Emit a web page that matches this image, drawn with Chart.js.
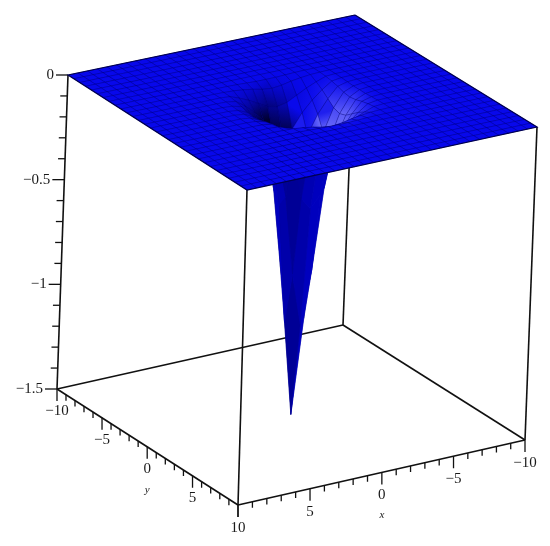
<!DOCTYPE html>
<html>
<head>
<meta charset="utf-8">
<style>
  html, body { margin: 0; padding: 0; background: #fff; }
  canvas { display: block; }
</style>
<script src="https://cdn.jsdelivr.net/npm/chart.js@4/dist/chart.umd.min.js"></script>
</head>
<body>
<canvas id="myChart" width="550" height="546"></canvas>
<script>
// surface grid lines
var gridX = [-10,-9.33,-8.67,-8,-7.33,-6.67,-6,-5.33,-4.67,-4,-3.33,-2.67,-2,-1.33,-0.67,0,0.67,1.33,2,2.67,3.33,4,4.67,5.33,6,6.67,7.33,8,8.67,9.33,10];
var gridY = [-10,-9.33,-8.67,-8,-7.33,-6.67,-6,-5.33,-4.67,-4,-3.33,-2.67,-2,-1.33,-0.67,0,0.67,1.33,2,2.67,3.33,4,4.67,5.33,6,6.67,7.33,8,8.67,9.33,10];

var wellStart = 9;
var wellZ = [
  [0,0,0,-.001,-.003,-.005,-.005,-.005,-.003,-.001,0,0,0],
  [0,-.001,-.003,-.008,-.015,-.025,-.03,-.025,-.015,-.008,-.003,-.001,0],
  [0,-.003,-.02,-.04,-.065,-.09,-.10,-.09,-.065,-.04,-.02,-.003,0],
  [-.001,-.008,-.04,-.08,-.13,-.20,-.22,-.20,-.13,-.08,-.04,-.008,-.001],
  [-.003,-.015,-.065,-.13,-.22,-.42,-.48,-.42,-.22,-.13,-.065,-.015,-.003],
  [-.005,-.025,-.09,-.20,-.42,-.80,-1.05,-.80,-.42,-.20,-.09,-.025,-.005],
  [-.005,-.03,-.10,-.22,-.48,-1.05,-1.5,-1.05,-.48,-.22,-.10,-.03,-.005],
  [-.005,-.025,-.09,-.20,-.42,-.80,-1.05,-.80,-.42,-.20,-.09,-.025,-.005],
  [-.003,-.015,-.065,-.13,-.22,-.42,-.48,-.42,-.22,-.13,-.065,-.015,-.003],
  [-.001,-.008,-.04,-.08,-.13,-.20,-.22,-.20,-.13,-.08,-.04,-.008,-.001],
  [0,-.003,-.02,-.04,-.065,-.09,-.10,-.09,-.065,-.04,-.02,-.003,0],
  [0,-.001,-.003,-.008,-.015,-.025,-.03,-.025,-.015,-.008,-.003,-.001,0],
  [0,0,0,-.001,-.003,-.005,-.005,-.005,-.003,-.001,0,0,0]
];

// axes
var xTicks = [-10,-9,-8,-7,-6,-5,-4,-3,-2,-1,0,1,2,3,4,5,6,7,8,9,10];
var yTicks = [-10,-9,-8,-7,-6,-5,-4,-3,-2,-1,0,1,2,3,4,5,6,7,8,9,10];
var zTicks = [0,-0.1,-0.2,-0.3,-0.4,-0.5,-0.6,-0.7,-0.8,-0.9,-1,-1.1,-1.2,-1.3,-1.4,-1.5];
var xyLabelValues = [-10,-5,0,5,10];
var xyLabels = ['\u221210','\u22125','0','5','10'];
var zLabelValues = [0,-0.5,-1,-1.5];
var zLabels = ['0','\u22120.5','\u22121','\u22121.5'];

// box corners on the page: back, left, front, right (x,y = -10/-10, 10/-10, 10/10, -10/10)
var topBox = [[355,15],[68,75],[247,190],[537,127]];
var bottomBox = [[343,325],[57,389],[238,505],[525,440]];

function homography(q) {
  var dx1 = q[1][0]-q[2][0], dx2 = q[3][0]-q[2][0], sx = q[0][0]-q[1][0]+q[2][0]-q[3][0];
  var dy1 = q[1][1]-q[2][1], dy2 = q[3][1]-q[2][1], sy = q[0][1]-q[1][1]+q[2][1]-q[3][1];
  var den = dx1*dy2-dx2*dy1;
  var g = (sx*dy2-dx2*sy)/den, h = (dx1*sy-sx*dy1)/den;
  return [q[1][0]-q[0][0]+g*q[1][0], q[3][0]-q[0][0]+h*q[3][0], q[0][0],
          q[1][1]-q[0][1]+g*q[1][1], q[3][1]-q[0][1]+h*q[3][1], q[0][1], g, h];
}
var topH = homography(topBox);
var bottomH = homography(bottomBox);

function applyH(m, x, y) {
  var u = (x+10)/20, v = (y+10)/20;
  var w = m[6]*u+m[7]*v+1;
  return [(m[0]*u+m[1]*v+m[2])/w, (m[3]*u+m[4]*v+m[5])/w];
}

function project(x, y, z) {
  var a = applyH(topH, x, y), b = applyH(bottomH, x, y);
  var t = -z/1.5;
  return {x: a[0]+(b[0]-a[0])*t, y: a[1]+(b[1]-a[1])*t};
}

function zAt(i, j) {
  var a = i-wellStart, b = j-wellStart;
  if (a >= 0 && b >= 0 && a < wellZ.length && b < wellZ.length) return wellZ[a][b];
  return 0;
}

function area(p) {
  var s = 0;
  for (var k = 0; k < 4; k++) {
    var n = p[(k+1)%4];
    s += p[k].x*n.y-n.x*p[k].y;
  }
  return s;
}

function mix(a, b, t) { return Math.round(a+(b-a)*t); }

// shading at a grid node, from the slope of the z table
function nodeShade(i, j) {
  var spacing = gridX[1]-gridX[0];
  var dx = (zAt(i+1,j)-zAt(i-1,j))/(2*spacing);
  var dy = (zAt(i,j+1)-zAt(i,j-1))/(2*spacing);
  var s = -dx*0.8+dy*0.6;
  var m = Math.sqrt(dx*dx+dy*dy);
  if (s > 0) {
    var t = Math.pow(Math.min(1, s/0.16), 1.2)/(1+(m/0.45)*(m/0.45));
    return [mix(8,150,t), mix(8,150,t), mix(235,255,t)];
  }
  var d = Math.pow(Math.min(1, -s/0.14), 1.5)/(1+(m/1.1)*(m/1.1));
  return [mix(8,0,d), mix(8,0,d), mix(235,45,d)];
}

function rgb(c) { return 'rgb('+c[0]+','+c[1]+','+c[2]+')'; }

function lineSet(points, color, width) {
  return {data: points, showLine: true, borderColor: color, borderWidth: width, pointRadius: 0, fill: false};
}

var ctx = document.getElementById('myChart').getContext('2d');

function cellFill(quad, nodes) {
  var lo = 0, hi = 0;
  var cols = nodes.map(function(n) { return nodeShade(n[0], n[1]); });
  for (var k = 1; k < 4; k++) {
    if (cols[k][2]+cols[k][0] < cols[lo][2]+cols[lo][0]) lo = k;
    if (cols[k][2]+cols[k][0] > cols[hi][2]+cols[hi][0]) hi = k;
  }
  if (lo == hi) return rgb(cols[0]);
  var g = ctx.createLinearGradient(quad[lo].x, quad[lo].y, quad[hi].x, quad[hi].y);
  g.addColorStop(0, rgb(cols[lo]));
  g.addColorStop(1, rgb(cols[hi]));
  return g;
}

// underside of the spike: darker in the middle, lighter toward the silhouette
function underFill(i, j) {
  var dx = zAt(i+1,j)+zAt(i+1,j+1)-zAt(i,j)-zAt(i,j+1);
  var dy = zAt(i,j+1)+zAt(i+1,j+1)-zAt(i,j)-zAt(i+1,j);
  var r = Math.abs(dy-dx)/(Math.abs(dx)+Math.abs(dy)+0.001);
  return 'rgb(0,0,'+mix(150,190,r)+')';
}

// painted back to front, the list is reversed at the end for Chart.js
var painted = [];
var ink = '#111';

// box edges behind the surface
for (var c = 0; c < 4; c++) {
  var p0 = {x: bottomBox[c][0], y: bottomBox[c][1]};
  var p1 = {x: bottomBox[(c+1)%4][0], y: bottomBox[(c+1)%4][1]};
  painted.push(lineSet([p0, p1], ink, 1.6));
  painted.push(lineSet([{x: topBox[c][0], y: topBox[c][1]}, p0], ink, 1.6));
}

// ticks
xTicks.forEach(function(v) {
  var p = project(v, 10, -1.5);
  painted.push(lineSet([p, {x: p.x, y: p.y+(v%5 == 0 ? 12 : 6)}], ink, 1.3));
});
yTicks.forEach(function(v) {
  var p = project(10, v, -1.5);
  painted.push(lineSet([p, {x: p.x, y: p.y+(v%5 == 0 ? 12 : 6)}], ink, 1.3));
});
zTicks.forEach(function(v, k) {
  var p = project(10, -10, v);
  painted.push(lineSet([p, {x: p.x-(k%5 == 0 ? 12 : 7), y: p.y}], ink, 1.3));
});

// flat sheet under the cells so the white page does not show in the seams
var sheet = topBox.concat([topBox[0]]).map(function(q) { return {x: q[0], y: q[1]}; });
painted.push({data: sheet, showLine: true, fill: 'shape', backgroundColor: 'rgb(8,8,235)', borderWidth: 0, pointRadius: 0});

// surface
for (var i = 0; i < gridX.length-1; i++) {
  for (var j = 0; j < gridY.length-1; j++) {
    var nodes = [[i,j],[i+1,j],[i+1,j+1],[i,j+1]];
    var quad = nodes.map(function(n) { return project(gridX[n[0]], gridY[n[1]], zAt(n[0],n[1])); });
    var flat = nodes.map(function(n) { return project(gridX[n[0]], gridY[n[1]], 0); });
    var backFacing = area(quad)*area(flat) < 0;
    var under = underFill(i, j);
    painted.push({
      data: quad.concat([quad[0]]),
      showLine: true,
      fill: 'shape',
      backgroundColor: backFacing ? under : cellFill(quad, nodes),
      borderColor: backFacing ? under : 'rgba(0,0,80,0.3)',
      borderWidth: backFacing ? 0.6 : 0.8,
      pointRadius: 0
    });
  }
}

// outline of the top sheet
painted.push(lineSet(sheet, '#000050', 1.2));

var labelPlugin = {
  id: 'axisText',
  afterDraw: function(chart) {
    var c2 = chart.ctx, sx = chart.scales.x, sy = chart.scales.y;
    c2.save();
    c2.fillStyle = '#1a1a1a';
    c2.font = '15px "Liberation Serif"';
    c2.textBaseline = 'middle';
    c2.textAlign = 'center';
    xyLabelValues.forEach(function(v, k) {
      var a = project(v, 10, -1.5), b = project(10, v, -1.5);
      c2.fillText(xyLabels[k], sx.getPixelForValue(a.x), sy.getPixelForValue(a.y)+23);
      if (v != 10) c2.fillText(xyLabels[k], sx.getPixelForValue(b.x), sy.getPixelForValue(b.y)+22);
    });
    c2.textAlign = 'right';
    zLabelValues.forEach(function(v, k) {
      var p = project(10, -10, v);
      c2.fillText(zLabels[k], sx.getPixelForValue(p.x)-14, sy.getPixelForValue(p.y));
    });
    c2.textAlign = 'center';
    c2.font = 'italic 11px "Liberation Serif"';
    var lx = project(0, 10, -1.5), ly = project(10, 0, -1.5);
    c2.fillText('x', sx.getPixelForValue(lx.x), sy.getPixelForValue(lx.y)+43);
    c2.fillText('y', sx.getPixelForValue(ly.x), sy.getPixelForValue(ly.y)+43);
    c2.restore();
  }
};

var chart = new Chart(ctx, {
  type: 'scatter',
  data: {datasets: painted.reverse()},
  options: {
    responsive: false,
    animation: false,
    layout: {padding: 0},
    elements: {line: {tension: 0}},
    plugins: {legend: {display: false}, tooltip: {enabled: false}},
    scales: {
      x: {display: false, min: 0, max: 550},
      y: {display: false, min: 0, max: 546, reverse: true}
    }
  },
  plugins: [labelPlugin]
});
</script>
</body>
</html>
